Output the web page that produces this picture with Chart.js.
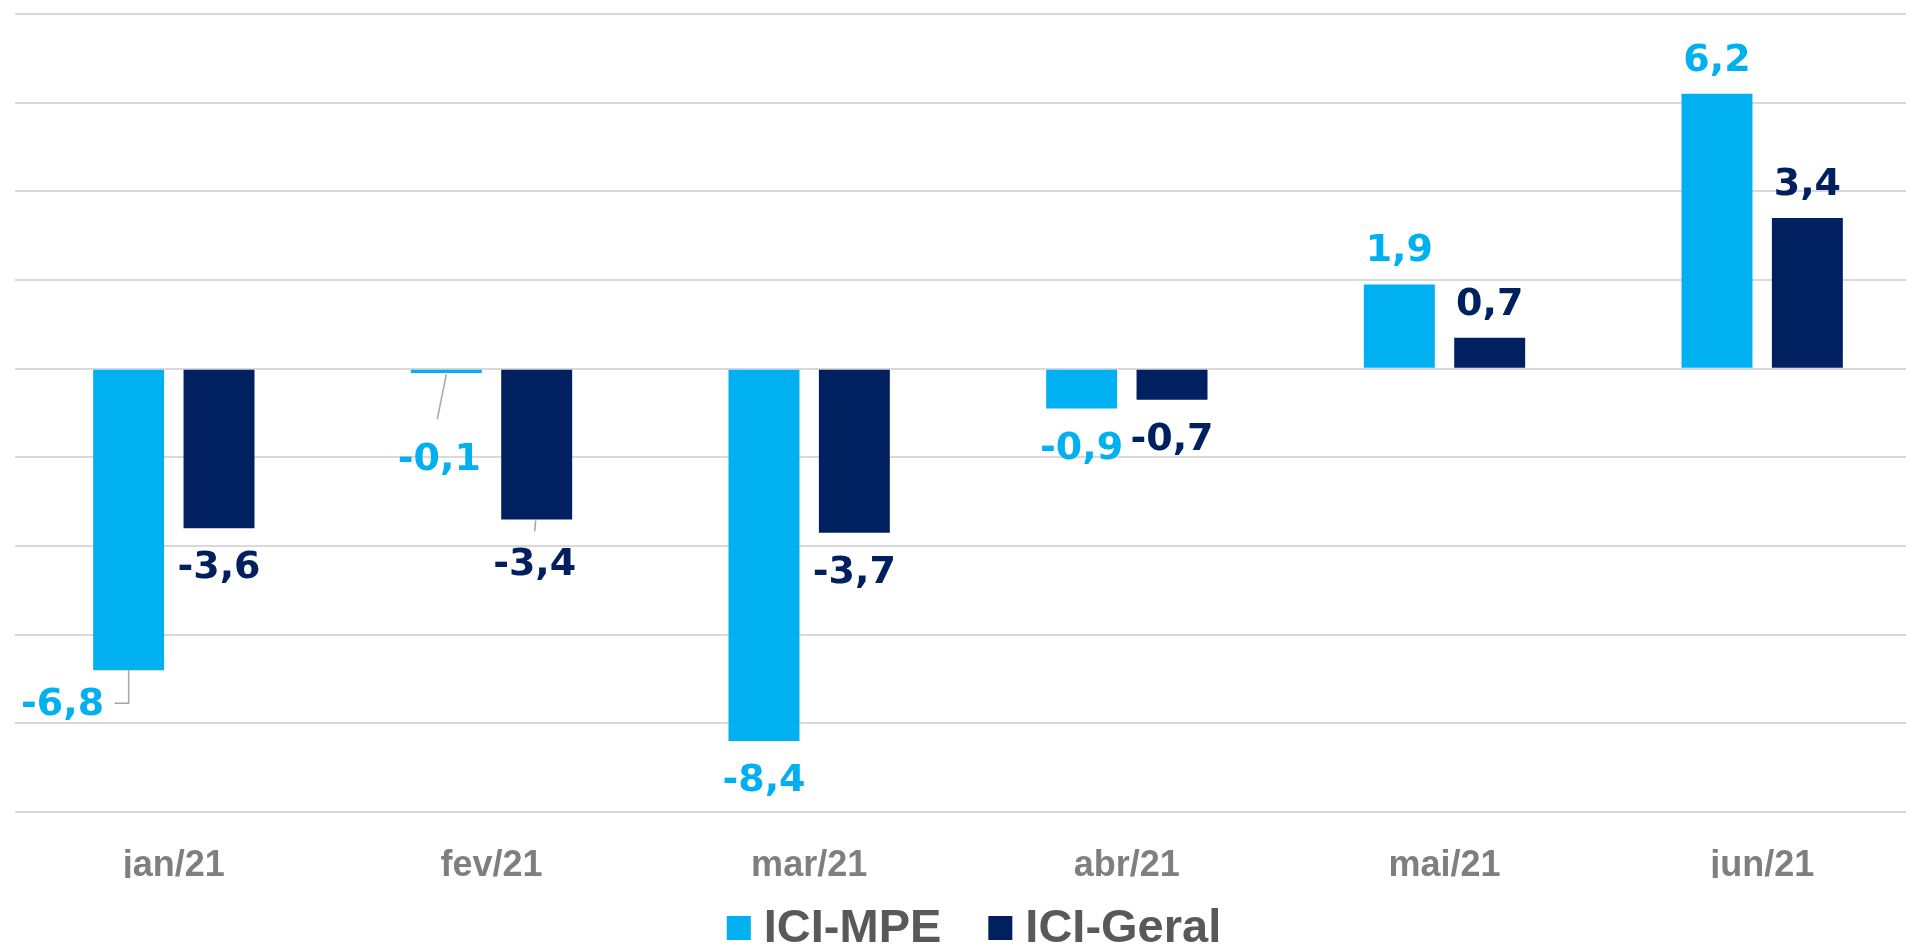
<!DOCTYPE html>
<html>
<head>
<meta charset="utf-8">
<script src="https://cdn.jsdelivr.net/npm/chart.js@4"></script>
<style>
  html, body { margin: 0; padding: 0; background: #fff; overflow: hidden; }
  canvas { display: block; }
</style>
</head>
<body>
<canvas id="myChart" width="1921" height="946"></canvas>
<script>
const months = ["jan/21", "fev/21", "mar/21", "abr/21", "mai/21", "jun/21"];
const iciMpe = [-6.8, -0.1, -8.4, -0.9, 1.9, 6.2];
const iciGeral = [-3.6, -3.4, -3.7, -0.7, 0.7, 3.4];
const seriesNames = ["ICI-MPE", "ICI-Geral"];
const Y_MIN = -10;
const Y_MAX = 8;
const Y_STEP = 2;

const COLOR_MPE = "#00b0f0";
const COLOR_GERAL = "#002060";

// labels that sit off the bar, with a thin leader line (offsets from bar end)
const leaders = {
  "0-0": { dx: -66, dy: 45, path: [[0, 0], [0, 33], [-14, 33]] },
  "0-1": { dx: -7, dy: 97, path: [[0, 1], [-9, 46]] },
  "1-1": { dx: -2, dy: 56, path: [[-1, 1], [-2, 12]] },
};

function fmt(v) {
  return v.toFixed(1).replace(".", ",");
}

const valueLabels = {
  id: "valueLabels",
  afterDatasetsDraw(chart) {
    const ctx = chart.ctx;
    ctx.save();
    ctx.font = "bold 38px 'DejaVu Sans'";
    ctx.textAlign = "center";
    ctx.textBaseline = "alphabetic";
    chart.data.datasets.forEach((ds, i) => {
      chart.getDatasetMeta(i).data.forEach((bar, j) => {
        const v = ds.data[j];
        const lead = leaders[i + "-" + j];
        let x = bar.x;
        let y;
        if (lead) {
          ctx.strokeStyle = "#a6a6a6";
          ctx.lineWidth = 1.5;
          ctx.beginPath();
          lead.path.forEach((p, k) => {
            const px = bar.x + p[0], py = bar.y + p[1];
            k ? ctx.lineTo(px, py) : ctx.moveTo(px, py);
          });
          ctx.stroke();
          x = bar.x + lead.dx;
          y = bar.y + lead.dy;
        } else if (v >= 0) {
          y = bar.y - 23;
        } else {
          y = bar.y + 50;
        }
        ctx.fillStyle = ds.backgroundColor;
        ctx.fillText(fmt(v), x, y);
      });
    });
    ctx.restore();
  },
};

const bottomLegend = {
  id: "bottomLegend",
  afterDraw(chart) {
    const ctx = chart.ctx;
    const box = 24, gap = 13, itemGap = 47;
    ctx.save();
    ctx.font = "bold 47px 'Liberation Sans', Arial, sans-serif";
    const items = chart.data.datasets.map((ds) => ({
      text: ds.label,
      color: ds.backgroundColor,
      w: ctx.measureText(ds.label).width,
    }));
    let total = 0;
    items.forEach((it, k) => {
      total += box + gap + it.w + (k ? itemGap : 0);
    });
    const area = chart.chartArea;
    let x = (area.left + area.right) / 2 + 6 - total / 2;
    const baseline = 942;
    ctx.textBaseline = "alphabetic";
    ctx.textAlign = "left";
    items.forEach((it) => {
      ctx.fillStyle = it.color;
      ctx.fillRect(x, baseline - 26, box, box);
      x += box + gap;
      ctx.fillStyle = "#595959";
      ctx.fillText(it.text, x, baseline);
      x += it.w + itemGap;
    });
    ctx.restore();
  },
};

const ctx = document.getElementById("myChart").getContext("2d");
new Chart(ctx, {
  type: "bar",
  data: {
    labels: months,
    datasets: [
      {
        label: seriesNames[0],
        data: iciMpe,
        backgroundColor: COLOR_MPE,
        categoryPercentage: 0.569,
        barPercentage: 0.785,
      },
      {
        label: seriesNames[1],
        data: iciGeral,
        backgroundColor: COLOR_GERAL,
        categoryPercentage: 0.569,
        barPercentage: 0.785,
      },
    ],
  },
  options: {
    responsive: false,
    animation: false,
    devicePixelRatio: 1,
    layout: { padding: { top: 14, bottom: 68, left: 0, right: 0 } },
    plugins: {
      legend: { display: false },
      tooltip: { enabled: false },
    },
    scales: {
      x: {
        grid: { display: false },
        border: { display: false },
        ticks: {
          padding: 24,
          color: "#7f7f7f",
          font: { family: "'Liberation Sans', Arial, sans-serif", size: 36, weight: "bold" },
        },
        afterFit(scale) {
          scale.height = 66;
        },
      },
      y: {
        min: Y_MIN,
        max: Y_MAX,
        ticks: { display: false, stepSize: Y_STEP },
        border: { display: false },
        grid: { color: "#d9d9d9", lineWidth: 2, drawTicks: false },
        afterFit(scale) {
          scale.width = 15;
        },
      },
    },
  },
  plugins: [valueLabels, bottomLegend],
});
</script>
</body>
</html>
